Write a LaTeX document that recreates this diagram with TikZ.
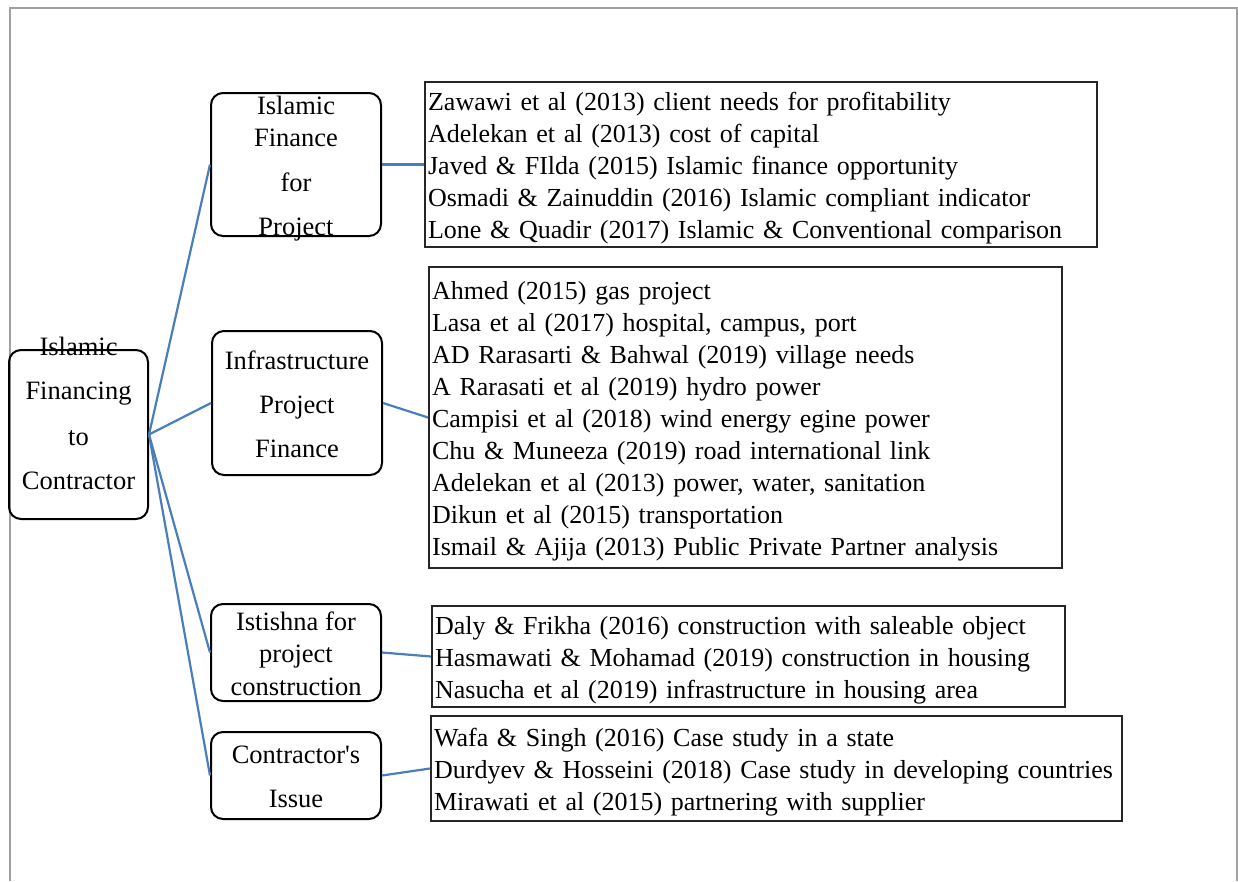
\documentclass[tikz,border=0pt]{standalone}
\usepackage{fontspec}
\setmainfont{Liberation Serif}
\usetikzlibrary{positioning}
\definecolor{linkblue}{RGB}{74,126,187}
\definecolor{framegray}{RGB}{160,160,160}
\tikzset{
  topic/.style={draw, line width=2pt, rounded corners=12pt, inner sep=0pt},
  topictext/.style={align=center, inner sep=0pt, font=\fontsize{26.5}{44}\selectfont},
  refs/.style={draw=black!85, line width=2.2pt, anchor=west, align=left,
    inner xsep=3pt, inner ysep=0pt, text height=26pt, font=\fontsize{26}{32}\selectfont},
  link/.style={draw=linkblue, line width=2.2pt}
}

\begin{document}
\begin{tikzpicture}[x=1pt,y=-1pt]
      \useasboundingbox (0,0) rectangle (1238,881);
      % page frame
      \draw[framegray, line width=1.5pt] (10,881) -- (10,8) -- (1237,8) -- (1237,881);
      %
      \node[topic, minimum width=139, minimum height=169] (root) at (78.5,434.5) {};
      \node[topictext] (rootlbl) at (78.5,413) {Islamic\\Financing\\[2pt]to\\Contractor};
      %
      \node[topic, minimum width=170, minimum height=143] (fin) at (296,164.5) {};
      \node[topictext, font=\fontsize{26.5}{32}\selectfont] (finlbl) at (296,168.5)
        {Islamic\\Finance\\[13pt]for\\[12pt]Project};
      \node[topic, minimum width=170, minimum height=144] (infra) at (297,403) {};
      \node[topictext] (infralbl) at (297,404) {Infrastructure\\Project\\Finance};
      \node[topic, minimum width=170, minimum height=97] (ist) at (296,652.5) {};
      \node[topictext, font=\fontsize{26.5}{32.5}\selectfont] (istlbl) at (296,653.5)
        {Istishna for\\project\\construction};
      \node[topic, minimum width=170, minimum height=87] (issue) at (296,775.5) {};
      \node[topictext] (issuelbl) at (296,777) {Contractor\textquotesingle s\\Issue};
      %
      \node[refs, text width=666, minimum height=165] (finrefs) at (424,164.5) {%
        Zawawi et al (2013) client needs for profitability\\
        Adelekan et al (2013) cost of capital\\
        Javed \& FIlda (2015) Islamic finance opportunity\\
        Osmadi \& Zainuddin (2016) Islamic compliant indicator\\
        Lone \& Quadir (2017) Islamic \& Conventional comparison};
      \node[refs, text width=627, minimum height=301] (infrarefs) at (428,417.5) {%
        Ahmed (2015) gas project\\
        Lasa et al (2017) hospital, campus, port\\
        AD Rarasarti \& Bahwal (2019) village needs\\
        A Rarasati et al (2019) hydro power\\
        Campisi et al (2018) wind energy egine power\\
        Chu \& Muneeza (2019) road international link\\
        Adelekan et al (2013) power, water, sanitation\\
        Dikun et al (2015) transportation\\
        Ismail \& Ajija (2013) Public Private Partner analysis};
      \node[refs, text width=627, minimum height=101] (istrefs) at (431,656.5) {%
        Daly \& Frikha (2016) construction with saleable object\\
        Hasmawati \& Mohamad (2019) construction in housing\\
        Nasucha et al (2019) infrastructure in housing area};
      \node[refs, text width=685, minimum height=105] (issuerefs) at (430,768.5) {%
        Wafa \& Singh (2016) Case study in a state\\
        \mbox{Durdyev \& Hosseini (2018) Case study in developing countries}\\
        Mirawati et al (2015) partnering with supplier};
      %
      \foreach \a/\b in {fin/finrefs,infra/infrarefs,ist/istrefs,issue/issuerefs} {%
        \draw[link] (root.east) -- (\a.west);
        \draw[link] (\a.east) -- (\b.west);
      }
    \end{tikzpicture}
\end{document}
